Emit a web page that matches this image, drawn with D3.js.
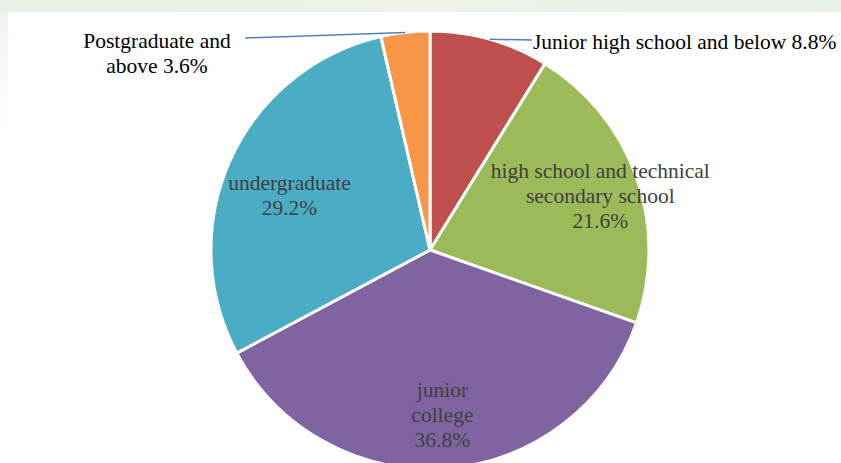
<!DOCTYPE html>
<html>
<head>
<meta charset="utf-8">
<script src="https://cdn.jsdelivr.net/npm/d3@7"></script>
<style>
  html, body { margin: 0; padding: 0; background: #fff; }
  svg { display: block; }
</style>
</head>
<body>
<svg id="chart" width="841" height="463"></svg>
<script>
// Education level of respondents (share, %)
const categories = [
  "Junior high school and below",
  "high school and technical secondary school",
  "junior college",
  "undergraduate",
  "Postgraduate and above"
];
const shares = [8.8, 21.6, 36.8, 29.2, 3.6];
const shareLabels = ["8.8%", "21.6%", "36.8%", "29.2%", "3.6%"];
const colors = ["#C0504D", "#9BBB59", "#8064A2", "#4BACC6", "#F79646"];

// Label layout: lines of each in-slice label, how far out (fraction of radius) it sits, and a small nudge
const insideLines = {
  1: ["high school and technical", "secondary school"],
  2: ["junior", "college"],
  3: ["undergraduate"]
};
const insideRadius = { 1: 0.81, 2: 0.75, 3: 0.685 };
const insideShift = { 1: [3, 5], 2: [0, 1], 3: [-4, 8] };

const W = 841, H = 463;
const cx = 430, cy = 250, R = 219;
const fontFamily = "'Liberation Serif', 'Times New Roman', serif";
const fontSize = 21.5;
const lineH = 25;

const svg = d3.select("#chart");

// faint watermark band along the top/left edges
const defs = svg.append("defs");
const gTop = defs.append("linearGradient").attr("id", "wmTop").attr("x1", 0).attr("x2", 1);
gTop.append("stop").attr("offset", "0").attr("stop-color", "#e9f1e6");
gTop.append("stop").attr("offset", "0.5").attr("stop-color", "#eef4ea");
gTop.append("stop").attr("offset", "1").attr("stop-color", "#e8f1e8");
svg.append("rect").attr("x", 0).attr("y", 0).attr("width", W).attr("height", 12).attr("fill", "url(#wmTop)");
const gLeft = defs.append("linearGradient").attr("id", "wmLeft").attr("x1", 0).attr("x2", 0).attr("y1", 0).attr("y2", 1);
gLeft.append("stop").attr("offset", "0").attr("stop-color", "#edf3ea").attr("stop-opacity", 1);
gLeft.append("stop").attr("offset", "1").attr("stop-color", "#ffffff").attr("stop-opacity", 0);
svg.append("rect").attr("x", 0).attr("y", 12).attr("width", 8).attr("height", 160).attr("fill", "url(#wmLeft)");

const data = categories.map((c, i) => ({ name: c, value: shares[i], label: shareLabels[i], color: colors[i], i }));

const pie = d3.pie().sort(null).value(d => d.value).startAngle(0).endAngle(2 * Math.PI);
const arcs = pie(data);
const arc = d3.arc().innerRadius(0).outerRadius(R);

const g = svg.append("g").attr("transform", `translate(${cx},${cy})`);

g.selectAll("path.slice")
  .data(arcs)
  .enter().append("path")
  .attr("class", "slice")
  .attr("d", arc)
  .attr("fill", d => d.data.color)
  .attr("stroke", "#fff")
  .attr("stroke-width", 3)
  .attr("stroke-linejoin", "round");

// in-slice labels
arcs.forEach(a => {
  const i = a.data.i;
  if (!insideLines[i]) return;
  const mid = (a.startAngle + a.endAngle) / 2;
  const r = R * insideRadius[i];
  const x = Math.sin(mid) * r + insideShift[i][0];
  const y = -Math.cos(mid) * r + insideShift[i][1];
  const lines = insideLines[i].concat([a.data.label]);
  const t = g.append("text")
    .attr("font-family", fontFamily)
    .attr("font-size", fontSize)
    .attr("fill", "#404040")
    .attr("text-anchor", "middle");
  const y0 = y - (lines.length - 1) * lineH / 2 + 7;
  lines.forEach((ln, k) => {
    t.append("tspan").attr("x", x).attr("y", y0 + k * lineH).text(ln);
  });
});

// outside labels with leader lines
const outside = [
  { i: 0, end: [532, 40], lines: ["Junior high school and below 8.8%"], tx: 533, ty: 49, anchor: "start" },
  { i: 4, end: [245, 38], lines: ["Postgraduate and", "above 3.6%"], tx: 157, ty: 48, anchor: "middle" }
];
outside.forEach(o => {
  const a = arcs[o.i];
  const mid = (a.startAngle + a.endAngle) / 2;
  const sx = cx + Math.sin(mid) * R;
  const sy = cy - Math.cos(mid) * R;
  svg.append("line")
    .attr("x1", sx).attr("y1", sy)
    .attr("x2", o.end[0]).attr("y2", o.end[1])
    .attr("stroke", "#4F81BD")
    .attr("stroke-width", 1.5);
  const t = svg.append("text")
    .attr("font-family", fontFamily)
    .attr("font-size", fontSize)
    .attr("fill", "#000")
    .attr("text-anchor", o.anchor);
  o.lines.forEach((ln, k) => {
    t.append("tspan").attr("x", o.tx).attr("y", o.ty + k * lineH).text(ln);
  });
});
</script>
</body>
</html>
